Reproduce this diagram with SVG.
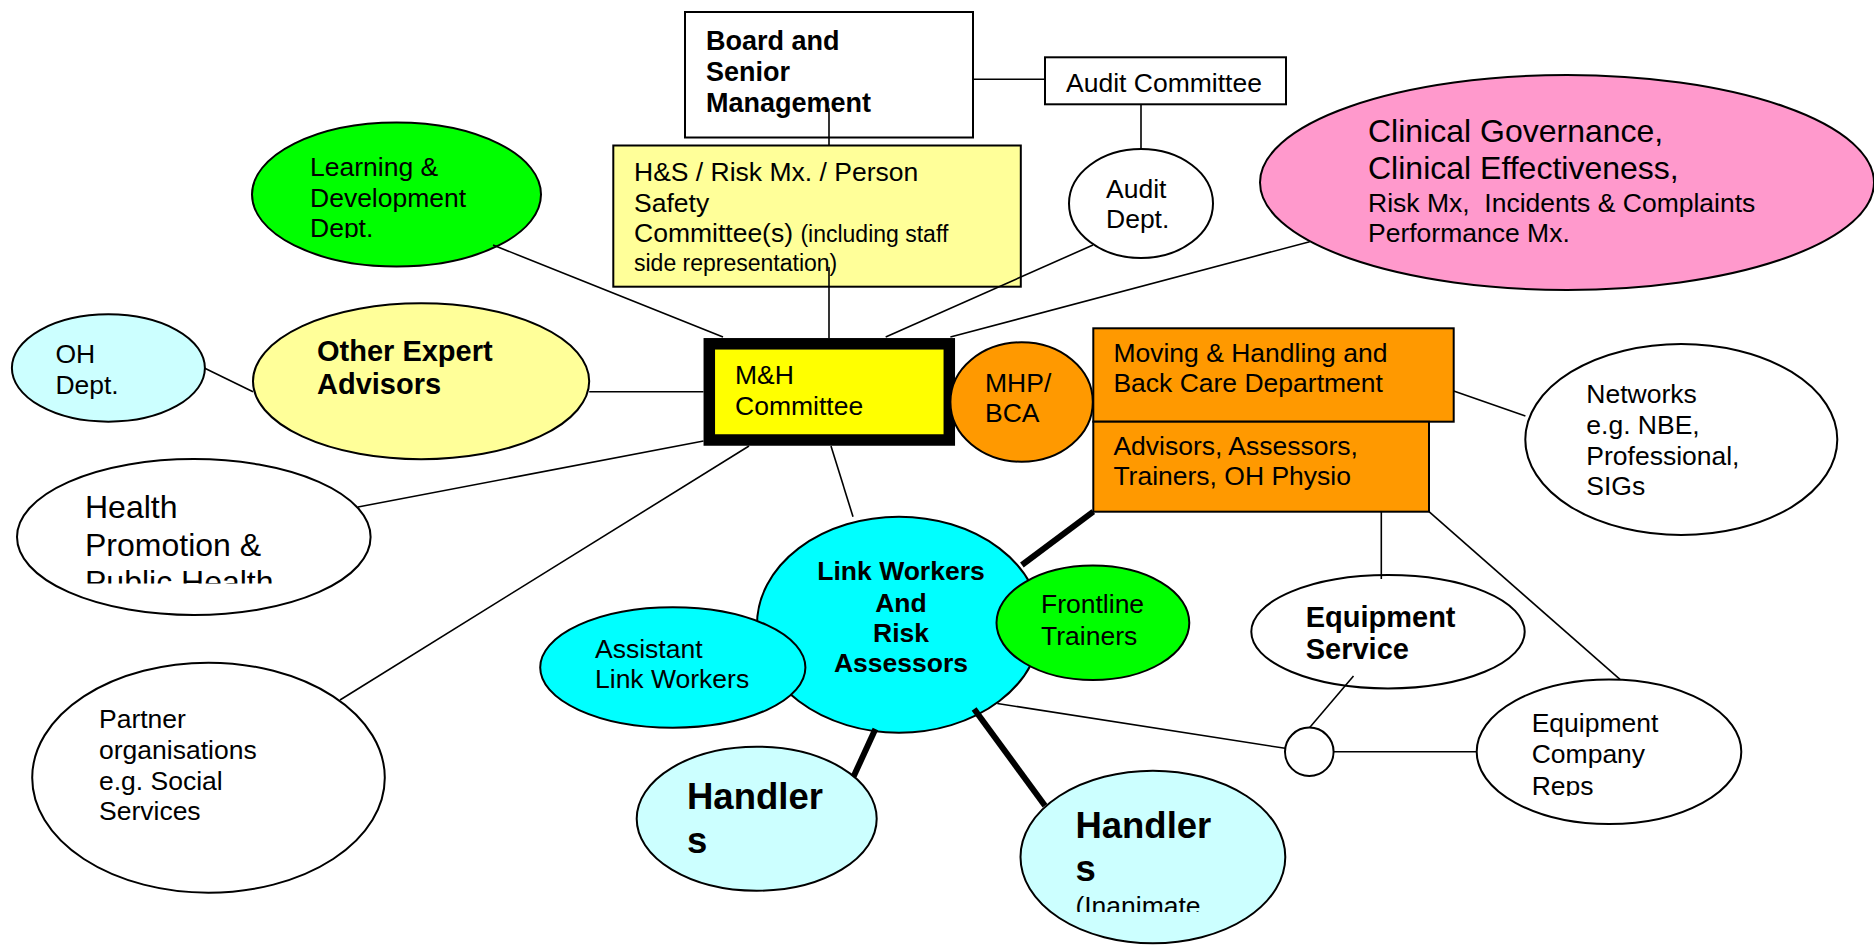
<svg xmlns="http://www.w3.org/2000/svg" width="1874" height="945" viewBox="0 0 1874 945">
<style>
svg{font-family:"Liberation Sans",Arial,sans-serif;font-size:26.5px}
.n{stroke:#000;stroke-width:2}
.c{stroke:#000;stroke-width:1.6;fill:none}
.k{stroke:#000;stroke-width:6;fill:none}
text{fill:#000}
.b{font-weight:bold}
</style>
<defs>
<clipPath id="clipLearn"><rect x="250" y="120" width="300" height="118"/></clipPath>
<clipPath id="clipHealth"><rect x="0" y="450" width="400" height="133.5"/></clipPath>
<clipPath id="clipHand2"><rect x="1000" y="760" width="300" height="152"/></clipPath>
<clipPath id="clipReps"><rect x="1470" y="670" width="280" height="126"/></clipPath>
</defs>
<rect width="1874" height="945" fill="#fff"/>

<g id="board"><rect class="n" x="685" y="12" width="288" height="125.5" fill="#fff"/>
<text class="b" font-size="27"><tspan x="706" y="50">Board and</tspan><tspan x="706" y="81">Senior</tspan><tspan x="706" y="111.5">Management</tspan></text></g>

<g id="audit-committee"><rect class="n" x="1045" y="57.3" width="241" height="47" fill="#fff"/>
<text x="1066" y="92.3">Audit Committee</text></g>

<g id="hs-committee"><rect class="n" x="613.3" y="145.5" width="407.5" height="141.2" fill="#ffff99"/>
<text><tspan x="634" y="181">H&amp;S / Risk Mx. / Person</tspan><tspan x="634" y="212">Safety</tspan><tspan x="634" y="242">Committee(s) <tspan font-size="23">(including staff</tspan></tspan><tspan x="634" y="271" font-size="23">side representation)</tspan></text></g>

<g id="audit-dept"><ellipse class="n" cx="1141" cy="203.5" rx="72" ry="54.5" fill="#fff"/>
<text><tspan x="1106" y="197.5">Audit</tspan><tspan x="1106" y="228">Dept.</tspan></text></g>

<g id="clinical"><ellipse class="n" cx="1567" cy="182.5" rx="307" ry="107.5" fill="#ff99cc"/>
<text><tspan x="1368" y="142" font-size="32">Clinical Governance,</tspan><tspan x="1368" y="178.5" font-size="32">Clinical Effectiveness,</tspan><tspan x="1368" y="211.5">Risk Mx,&#160; Incidents &amp; Complaints</tspan><tspan x="1368" y="242">Performance Mx.</tspan></text></g>

<g id="learning"><ellipse class="n" cx="396.5" cy="194.5" rx="144.5" ry="72" fill="#00ff00"/>
<text clip-path="url(#clipLearn)"><tspan x="310" y="176">Learning &amp;</tspan><tspan x="310" y="207">Development</tspan><tspan x="310" y="237">Dept.</tspan></text></g>

<g id="oh-dept"><ellipse class="n" cx="108.4" cy="368" rx="96.5" ry="53.7" fill="#ccffff"/>
<text><tspan x="55.4" y="363.3">OH</tspan><tspan x="55.4" y="394">Dept.</tspan></text></g>

<g id="other-expert"><ellipse class="n" cx="421.1" cy="381.3" rx="168.1" ry="78" fill="#ffff99"/>
<text class="b" font-size="29"><tspan x="317" y="360.7">Other Expert</tspan><tspan x="317" y="394">Advisors</tspan></text></g>

<g id="health-promotion"><ellipse class="n" cx="193.8" cy="537" rx="176.8" ry="78" fill="#fff"/>
<text font-size="32" clip-path="url(#clipHealth)"><tspan x="85" y="518.3">Health</tspan><tspan x="85" y="555.7">Promotion &amp;</tspan><tspan x="85" y="593">Public Health</tspan></text></g>

<g id="partner"><ellipse class="n" cx="208.5" cy="777.7" rx="176.3" ry="115" fill="#fff"/>
<text><tspan x="99" y="728.3">Partner</tspan><tspan x="99" y="759.3">organisations</tspan><tspan x="99" y="790">e.g. Social</tspan><tspan x="99" y="820">Services</tspan></text></g>

<g id="mh-committee"><rect x="709.3" y="343.8" width="240" height="96.2" fill="#ffff00" stroke="#000" stroke-width="11.5"/>
<text><tspan x="735" y="384">M&amp;H</tspan><tspan x="735" y="415">Committee</tspan></text></g>

<g id="mhp-bca"><ellipse class="n" cx="1021.6" cy="402" rx="71.2" ry="59.7" fill="#ff9900"/>
<text><tspan x="985" y="391.7">MHP/</tspan><tspan x="985" y="421.7">BCA</tspan></text></g>

<g id="mh-department"><rect class="n" x="1093.3" y="328.3" width="360.4" height="93.4" fill="#ff9900"/>
<text><tspan x="1113.4" y="362.3">Moving &amp; Handling and</tspan><tspan x="1113.4" y="391.7">Back Care Department</tspan></text></g>

<g id="advisors"><rect class="n" x="1093.3" y="421.7" width="335.7" height="90" fill="#ff9900"/>
<text><tspan x="1113.4" y="455">Advisors, Assessors,</tspan><tspan x="1113.4" y="485">Trainers, OH Physio</tspan></text></g>

<g id="networks"><ellipse class="n" cx="1681.3" cy="439.5" rx="156" ry="95.5" fill="#fff"/>
<text><tspan x="1586.3" y="402.7">Networks</tspan><tspan x="1586.3" y="434">e.g. NBE,</tspan><tspan x="1586.3" y="465">Professional,</tspan><tspan x="1586.3" y="495">SIGs</tspan></text></g>

<g id="equipment-service"><ellipse class="n" cx="1388" cy="631.7" rx="136.7" ry="56.7" fill="#fff"/>
<text class="b" font-size="29"><tspan x="1305.7" y="626.7">Equipment</tspan><tspan x="1305.7" y="659.3">Service</tspan></text></g>

<g id="junction"><ellipse class="n" cx="1309.3" cy="751.8" rx="24.3" ry="24.2" fill="#fff"/></g>

<g id="equipment-company"><ellipse class="n" cx="1609" cy="751.7" rx="132.3" ry="72.3" fill="#fff"/>
<text clip-path="url(#clipReps)"><tspan x="1531.7" y="732.3">Equipment</tspan><tspan x="1531.7" y="763.3">Company</tspan><tspan x="1531.7" y="794.5">Reps</tspan></text></g>

<g id="link-workers"><ellipse class="n" cx="899" cy="624.7" rx="142" ry="108" fill="#00ffff"/>
<text class="b" text-anchor="middle"><tspan x="901" y="580">Link Workers</tspan><tspan x="901" y="611.7">And</tspan><tspan x="901" y="641.7">Risk</tspan><tspan x="901" y="671.7">Assessors</tspan></text></g>

<g id="assistant"><ellipse class="n" cx="672.8" cy="667.5" rx="132.6" ry="60.2" fill="#00ffff"/>
<text><tspan x="595" y="658.3">Assistant</tspan><tspan x="595" y="688.3">Link Workers</tspan></text></g>

<g id="frontline"><ellipse class="n" cx="1092.9" cy="622.8" rx="96.4" ry="57.2" fill="#00ff00"/>
<text><tspan x="1041" y="613.3">Frontline</tspan><tspan x="1041" y="645">Trainers</tspan></text></g>

<g id="handlers-1"><ellipse class="n" cx="756.7" cy="818.7" rx="120" ry="72" fill="#ccffff"/>
<text class="b" font-size="36.5"><tspan x="687" y="809.3">Handler</tspan><tspan x="687" y="852.7">s</tspan></text></g>

<g id="handlers-2"><ellipse class="n" cx="1152.9" cy="857" rx="132.4" ry="86.3" fill="#ccffff"/>
<text clip-path="url(#clipHand2)"><tspan class="b" font-size="36.5" x="1075.4" y="838.3">Handler</tspan><tspan class="b" font-size="36.5" x="1075.4" y="880.7">s</tspan><tspan x="1075.4" y="915">(Inanimate</tspan></text></g>

<g id="connectors">
<line class="c" x1="973" y1="79.3" x2="1045" y2="79.3"/>
<line class="c" x1="1141" y1="104.3" x2="1141" y2="149"/>
<line class="c" x1="829" y1="108.3" x2="829" y2="145.5"/>
<line class="c" x1="829" y1="267" x2="829" y2="338"/>
<line class="c" x1="493" y1="245" x2="723" y2="337"/>
<line class="c" x1="1093" y1="245" x2="885.7" y2="337"/>
<line class="c" x1="1309.7" y1="241.7" x2="950.4" y2="337"/>
<line class="c" x1="204.8" y1="368.3" x2="253" y2="391.7"/>
<line class="c" x1="589.2" y1="391.7" x2="703.5" y2="391.7"/>
<line class="c" x1="358" y1="507" x2="703.5" y2="441"/>
<line class="c" x1="340" y1="700" x2="749" y2="446"/>
<line class="c" x1="831" y1="446" x2="853" y2="516.7"/>
<line class="c" x1="1453.7" y1="391" x2="1525.4" y2="416"/>
<line class="c" x1="1381.3" y1="511.7" x2="1381.3" y2="579"/>
<line class="c" x1="1429" y1="511.7" x2="1620" y2="679.3"/>
<line class="c" x1="1353.5" y1="676" x2="1309.7" y2="727.6"/>
<line class="c" x1="1333.6" y1="751.7" x2="1476.8" y2="751.7"/>
<line class="c" x1="997.3" y1="703.5" x2="1285.1" y2="748.3"/>
<line class="k" x1="1093.3" y1="511.7" x2="1021.9" y2="565"/>
<line class="k" x1="875.4" y1="729" x2="853.6" y2="776.5"/>
<line class="k" x1="974.1" y1="709" x2="1045" y2="805.7"/>
</g>
</svg>
